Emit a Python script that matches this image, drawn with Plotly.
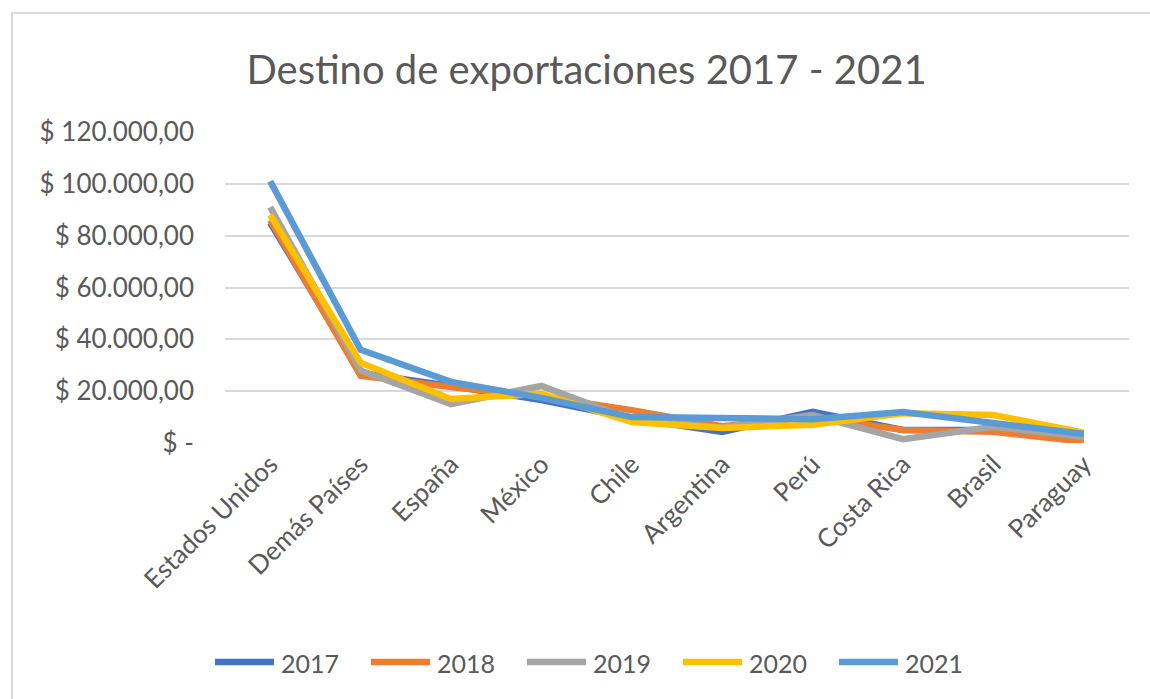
import plotly.graph_objects as go

# Export destinations and yearly values (USD)
destinos = ["Estados Unidos", "Demás Países", "España", "México", "Chile",
            "Argentina", "Perú", "Costa Rica", "Brasil", "Paraguay"]

v2017 = [85000, 27000, 22000, 16600, 9500, 4300, 12000, 5000, 5000, 1500]
v2018 = [86000, 26000, 21600, 18000, 12700, 6500, 10000, 5000, 4300, 500]
v2019 = [91000, 28000, 15000, 22000, 9000, 6000, 10800, 1500, 6300, 2300]
v2020 = [88000, 31000, 17000, 19000, 8100, 5800, 7000, 11500, 10800, 4000]
v2021 = [101000, 36000, 23600, 17400, 10000, 9500, 9200, 12000, 8000, 3500]

years = ["2017", "2018", "2019", "2020", "2021"]
series = [v2017, v2018, v2019, v2020, v2021]
colors = ["#4472C4", "#ED7D31", "#A5A5A5", "#FFC000", "#5B9BD5"]

y_ticks = [0, 20000, 40000, 60000, 80000, 100000, 120000]
y_labels = ["$ -", "$ 20.000,00", "$ 40.000,00", "$ 60.000,00",
            "$ 80.000,00", "$ 100.000,00", "$ 120.000,00"]

FONT = "Lato"
GREY_TEXT = "#595959"

fig = go.Figure()
for name, vals, col in zip(years, series, colors):
    fig.add_trace(go.Scatter(
        x=destinos, y=vals, name=name, mode="lines",
        line=dict(color=col, width=6.5),
        showlegend=False,
    ))

W, H = 1150, 699
L, R, T, B = 225, 21, 132, 256
pw, ph = W - L - R, H - T - B


def px_x(x):
    return (x - L) / pw


def px_y(y):
    return (H - B - y) / ph


# Chart frame
shapes = [dict(type="rect", xref="paper", yref="paper",
               x0=px_x(12), x1=px_x(W + 20), y0=px_y(H + 20), y1=px_y(13),
               line=dict(color="#D9D9D9", width=2),
               fillcolor="rgba(0,0,0,0)", layer="below")]
annotations = []

# Legend below the plot: long line swatch followed by the year
leg_y = 662
leg_x0 = 212
pitch = 156
for i, (name, col) in enumerate(zip(years, colors)):
    x0 = leg_x0 + i * pitch
    shapes.append(dict(type="line", xref="paper", yref="paper",
                       x0=px_x(x0 + 3), x1=px_x(x0 + 62),
                       y0=px_y(leg_y), y1=px_y(leg_y),
                       line=dict(color=col, width=6.5)))
    annotations.append(dict(text=name, xref="paper", yref="paper",
                            x=px_x(x0 + 67), y=px_y(leg_y + 1),
                            xanchor="left", yanchor="middle", showarrow=False,
                            font=dict(size=25, color=GREY_TEXT, family=FONT)))

fig.update_layout(
    width=W, height=H,
    margin=dict(l=L, r=R, t=T, b=B),
    paper_bgcolor="white", plot_bgcolor="white",
    font=dict(family=FONT, color=GREY_TEXT, size=26),
    title=dict(text="Destino de exportaciones 2017 - 2021",
               x=0.51, xanchor="center", y=1 - 70 / H, yanchor="middle",
               font=dict(size=40, color=GREY_TEXT, family=FONT)),
    showlegend=False,
    xaxis=dict(showgrid=False, showline=False, zeroline=False,
               tickangle=-45, tickfont=dict(size=26, color=GREY_TEXT),
               ticks="", range=[-0.5, 9.5]),
    yaxis=dict(range=[0, 120000], tickvals=y_ticks, ticktext=y_labels,
               showgrid=True, gridcolor="#D9D9D9", gridwidth=2,
               zeroline=False, showline=False, ticks="",
               ticklabelstandoff=30,
               tickfont=dict(size=26, color=GREY_TEXT)),
    shapes=shapes,
    annotations=annotations,
)

fig.write_html("out.html")
